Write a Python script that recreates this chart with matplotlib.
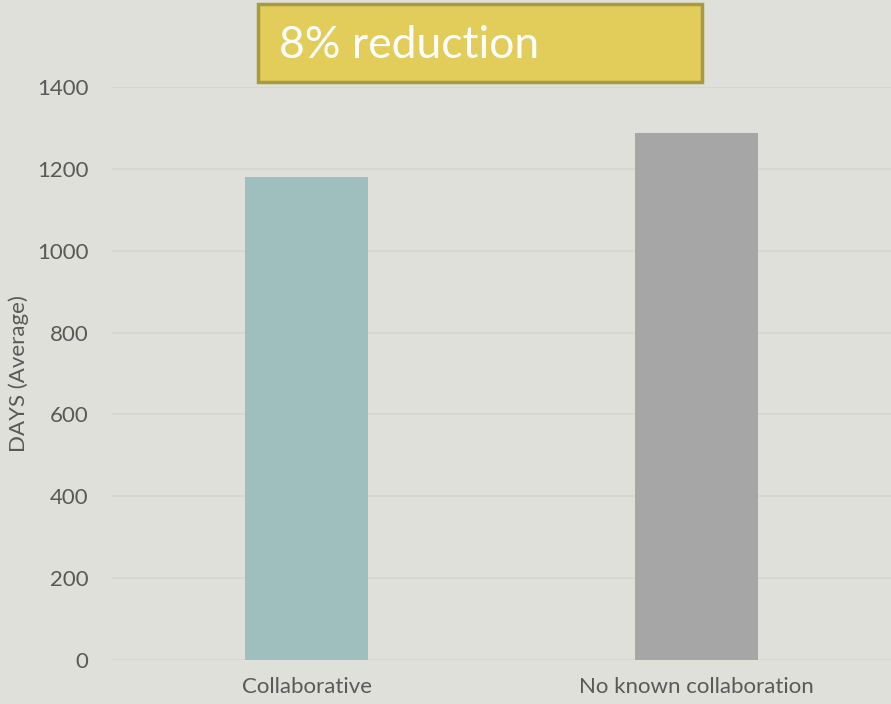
import matplotlib.pyplot as plt
from matplotlib.patches import Rectangle

plt.rcParams['font.family'] = ['Lato', 'DejaVu Sans']

categories = ["Collaborative", "No known collaboration"]
days_avg = [1180, 1288]
bar_colors = ["#9FBFBF", "#A6A6A6"]
headline = "8% reduction"
yticks = [0, 200, 400, 600, 800, 1000, 1200, 1400]

BG = "#E0E0DA"

fig = plt.figure(figsize=(8.91, 7.04), dpi=100, facecolor=BG)
ax = fig.add_axes([0.1257, 0.0625, 0.8743, 0.8139], facecolor=BG)

x = range(len(categories))
ax.bar(x, days_avg, width=0.315, color=bar_colors, zorder=3)

ax.set_xlim(-0.5, 1.5)
ax.set_ylim(0, 1400)
ax.set_yticks(yticks)
ax.set_xticks(list(x))
ax.set_xticklabels(categories)
ax.grid(axis='y', color="#D6D6D0", linewidth=1.2, zorder=0)
for s in ax.spines.values():
    s.set_visible(False)
ax.tick_params(length=0, labelsize=16, colors="#595959")
ax.tick_params(axis='y', pad=17)
ax.tick_params(axis='x', pad=12)
ax.set_ylabel("DAYS (Average)", fontsize=16, color="#595959", labelpad=6)

# headline callout box
fig.patches.append(Rectangle((0.2896, 0.8835), 0.4983, 0.1108,
                             transform=fig.transFigure, facecolor="#E2CC5A",
                             edgecolor="#A89A3F", linewidth=2.5))
fig.text(0.313, 0.936, headline, fontsize=32, color="white",
         ha='left', va='center')

fig.savefig("out.png", dpi=100, facecolor=BG)
